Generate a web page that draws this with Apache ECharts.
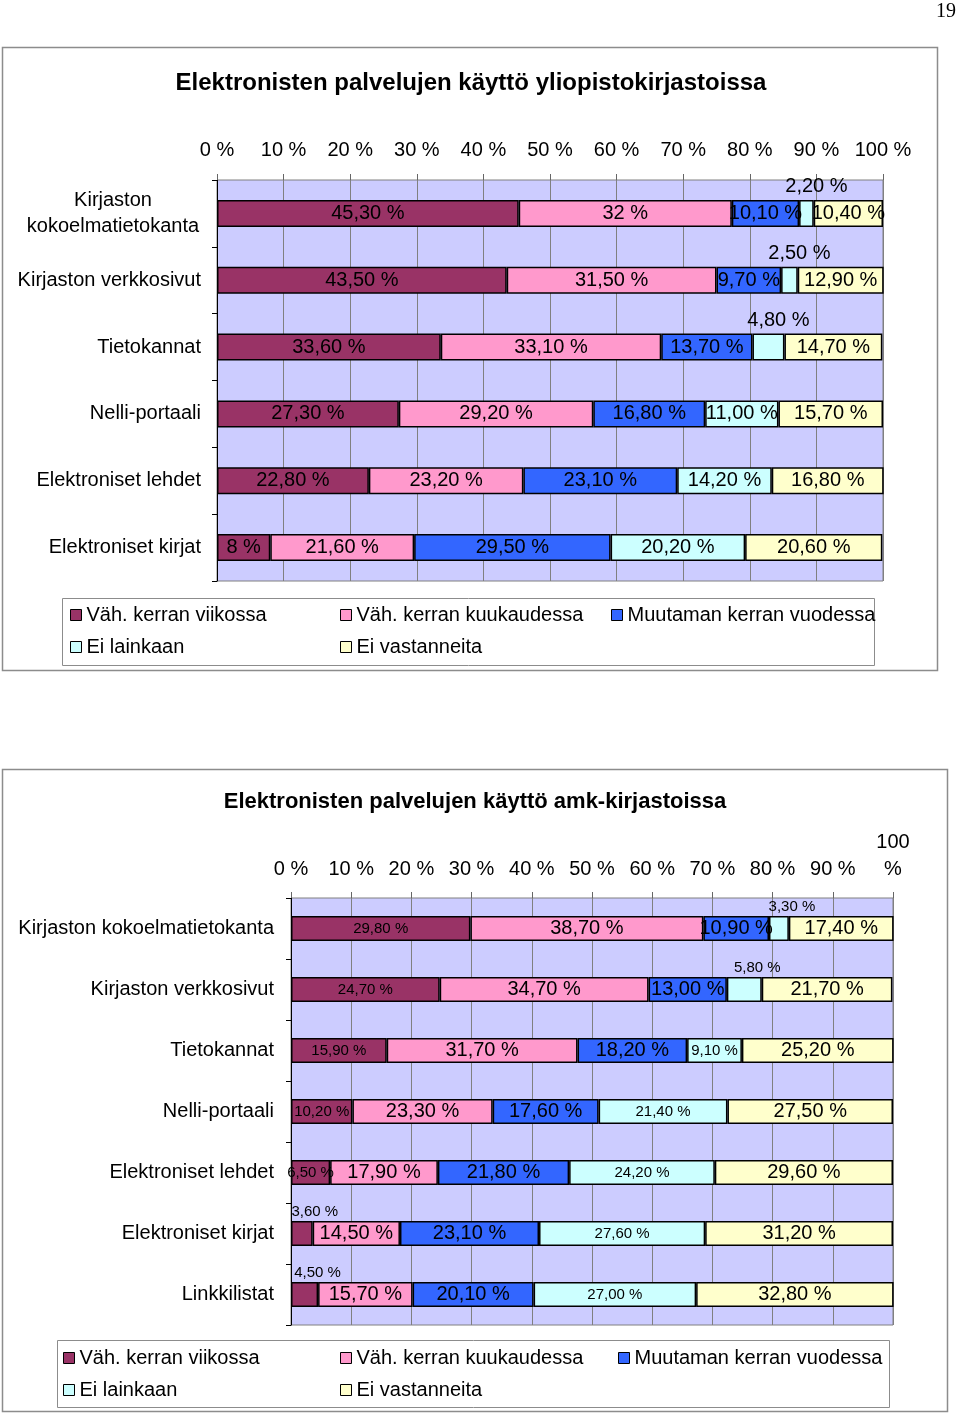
<!DOCTYPE html>
<html><head><meta charset="utf-8">
<script src="https://cdn.jsdelivr.net/npm/echarts@6/dist/echarts.min.js"></script>
<style>html,body{margin:0;padding:0;background:#fff}#c{width:960px;height:1417px}</style>
</head><body><div id="c"></div>
<script>
const seriesNames = ['Väh. kerran viikossa','Väh. kerran kuukaudessa','Muutaman kerran vuodessa','Ei lainkaan','Ei vastanneita'];

const categories1 = ['Kirjaston\nkokoelmatietokanta','Kirjaston verkkosivut','Tietokannat','Nelli-portaali','Elektroniset lehdet','Elektroniset kirjat'];
const weekly1   = [45.3, 43.5, 33.6, 27.3, 22.8, 8];
const monthly1  = [32, 31.5, 33.1, 29.2, 23.2, 21.6];
const yearly1   = [10.1, 9.7, 13.7, 16.8, 23.1, 29.5];
const never1    = [2.2, 2.5, 4.8, 11.0, 14.2, 20.2];
const noAnswer1 = [10.4, 12.9, 14.7, 15.7, 16.8, 20.6];
const wholeLabels1 = [[0,1],[5,0]]; // [row, series] printed without decimals
const tickLabels1 = ['0 %','10 %','20 %','30 %','40 %','50 %','60 %','70 %','80 %','90 %','100 %'];

const categories2 = ['Kirjaston kokoelmatietokanta','Kirjaston verkkosivut','Tietokannat','Nelli-portaali','Elektroniset lehdet','Elektroniset kirjat','Linkkilistat'];
const weekly2   = [29.8, 24.7, 15.9, 10.2, 6.5, 3.6, 4.5];
const monthly2  = [38.7, 34.7, 31.7, 23.3, 17.9, 14.5, 15.7];
const yearly2   = [10.9, 13.0, 18.2, 17.6, 21.8, 23.1, 20.1];
const never2    = [3.3, 5.8, 9.1, 21.4, 24.2, 27.6, 27.0];
const noAnswer2 = [17.4, 21.7, 25.2, 27.5, 29.6, 31.2, 32.8];
const wholeLabels2 = [];
const tickLabels2 = ['0 %','10 %','20 %','30 %','40 %','50 %','60 %','70 %','80 %','90 %','100\n%'];

const colors = ['#993366','#FF99CC','#3366FF','#CCFFFF','#FFFFCC'];
const FONT = "'Liberation Sans', Arial, sans-serif";

function fmt(v, whole) {
  return (whole ? String(Math.round(v)) : v.toFixed(2).replace('.', ',')) + ' %';
}

function buildSeries(valueSets, whole, gridIdx, barW, fontSizes, topOffset, topDist) {
  return valueSets.map((vals, si) => ({
    name: seriesNames[si],
    type: 'bar',
    stack: 'g' + gridIdx,
    xAxisIndex: gridIdx,
    yAxisIndex: gridIdx,
    barWidth: barW,
    itemStyle: { color: colors[si], borderColor: '#000', borderWidth: 1.5 },
    label: { show: true, position: 'inside', color: '#000', fontFamily: FONT, fontSize: fontSizes[si] },
    emphasis: { disabled: true },
    data: vals.map((v, ri) => {
      const isWhole = whole.some(p => p[0] === ri && p[1] === si);
      const item = { value: v, label: { formatter: fmt(v, isWhole) } };
      if (v < 6) {
        item.label.position = 'top';
        item.label.distance = topDist;
        item.label.offset = topOffset;
      }
      return item;
    })
  }));
}

const series = [
  ...buildSeries([weekly1, monthly1, yearly1, never1, noAnswer1], wholeLabels1, 0, 27, [20,20,20,20,20], [10,0], 3),
  ...buildSeries([weekly2, monthly2, yearly2, never2, noAnswer2], wholeLabels2, 1, 25, [15,20,20,15,20], [13,0], 2)
];

function xAx(gi, labels, margin, lh) {
  return {
    gridIndex: gi, type: 'value', position: 'top', min: 0, max: 100, interval: 10,
    axisLine: { show: false },
    axisTick: { show: true, length: 6, lineStyle: { color: '#666' } },
    splitLine: { show: true, lineStyle: { color: '#808080', width: 1 } },
    axisLabel: { margin: margin, color: '#000', fontFamily: FONT, fontSize: 20, lineHeight: lh,
      formatter: v => labels[Math.round(v / 10)] }
  };
}

function yAx(gi, cats, margin) {
  return {
    gridIndex: gi, type: 'category', inverse: true, data: cats,
    axisLine: { show: true, lineStyle: { color: '#000', width: 1 } },
    axisTick: { show: true, length: 5, lineStyle: { color: '#000' } },
    axisLabel: {
      margin: margin, color: '#000', fontFamily: FONT, fontSize: 20,
      formatter: v => v.indexOf('\n') >= 0 ? v.split('\n').map(s => '{c|' + s + '}').join('\n') : v,
      rich: { c: { width: 176, align: 'center', fontSize: 20, lineHeight: 26, fontFamily: FONT, color: '#000' } }
    }
  };
}

const legendPos = [
  { lefts: [70, 340, 611, 70, 340], centers: [615, 615, 615, 647, 647] },
  { lefts: [63, 340, 618, 63, 340], centers: [1358, 1358, 1358, 1390, 1390] }
];
const legends = [];
legendPos.forEach(lp => {
  seriesNames.forEach((n, i) => {
    legends.push({
      data: [n], left: lp.lefts[i], top: lp.centers[i] - 11, padding: 0,
      icon: 'rect', itemWidth: 11, itemHeight: 11, selectedMode: false,
      itemStyle: { borderColor: '#000', borderWidth: 1 },
      textStyle: { fontFamily: FONT, fontSize: 20, color: '#000', lineHeight: 22 }
    });
  });
});

const chart = echarts.init(document.getElementById('c'), null, { renderer: 'canvas' });
chart.setOption({
  animation: false,
  backgroundColor: '#fff',
  grid: [
    { left: 217, top: 180, width: 666, height: 401, show: true, backgroundColor: '#CCCCFF', borderColor: '#808080', borderWidth: 1 },
    { left: 291, top: 898, width: 602, height: 427, show: true, backgroundColor: '#CCCCFF', borderColor: '#808080', borderWidth: 1 }
  ],
  xAxis: [xAx(0, tickLabels1, 18, 24), xAx(1, tickLabels2, 15, 27)],
  yAxis: [yAx(0, categories1, 16), yAx(1, categories2, 17)],
  legend: legends,
  series: series,
  graphic: [
    { type: 'rect', shape: { x: 2.5, y: 47.5, width: 935, height: 623 }, style: { fill: 'none', stroke: '#8c8c8c', lineWidth: 1.5 }, z: -1 },
    { type: 'rect', shape: { x: 2.5, y: 769.5, width: 945, height: 642 }, style: { fill: 'none', stroke: '#8c8c8c', lineWidth: 1.5 }, z: -1 },
    { type: 'rect', shape: { x: 62.5, y: 598.5, width: 812, height: 67 }, style: { fill: 'none', stroke: '#8c8c8c', lineWidth: 1 } },
    { type: 'rect', shape: { x: 57.5, y: 1340.5, width: 832, height: 67 }, style: { fill: 'none', stroke: '#8c8c8c', lineWidth: 1 } },
    { type: 'text', x: 471, y: 83, style: { text: 'Elektronisten palvelujen käyttö yliopistokirjastoissa', font: "bold 24px 'Liberation Sans', Arial, sans-serif", fill: '#000', align: 'center', verticalAlign: 'middle' } },
    { type: 'text', x: 475, y: 802, style: { text: 'Elektronisten palvelujen käyttö amk-kirjastoissa', font: "bold 22px 'Liberation Sans', Arial, sans-serif", fill: '#000', align: 'center', verticalAlign: 'middle' } },
    { type: 'text', x: 946, y: 12, style: { text: '19', font: "20px 'Liberation Serif', 'DejaVu Serif', serif", fill: '#000', align: 'center', verticalAlign: 'middle' } }
  ]
});
</script></body></html>
